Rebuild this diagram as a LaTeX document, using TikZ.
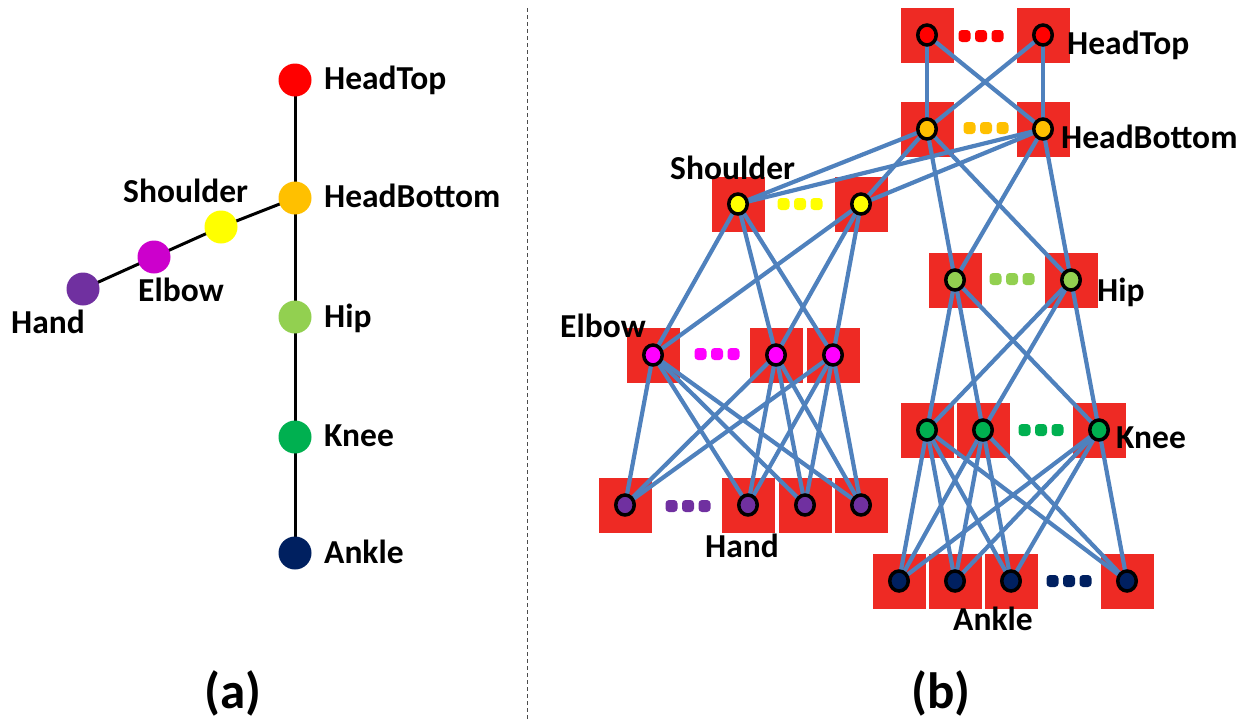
\documentclass[tikz,border=0pt]{standalone}
\usepackage{fontspec}
\setmainfont{Carlito}
\usetikzlibrary{calc}

\definecolor{cHeadTop}{HTML}{FF0000}
\definecolor{cHeadBottom}{HTML}{FFC000}
\definecolor{cShoulder}{HTML}{FFFF00}
\definecolor{cElbowA}{HTML}{CC00CC}
\definecolor{cElbowB}{HTML}{FF00FF}
\definecolor{cHand}{HTML}{7030A0}
\definecolor{cHip}{HTML}{92D050}
\definecolor{cKnee}{HTML}{00B050}
\definecolor{cAnkle}{HTML}{002060}
\definecolor{boxred}{HTML}{EE2A24}
\definecolor{linkblue}{HTML}{4F81BD}

\pgfdeclarelayer{boxes}
\pgfdeclarelayer{links}
\pgfsetlayers{boxes,links,main}

% a joint of the graph: red box behind, outlined circle on top
\newcommand\gjoint[4]{%
  \begin{pgfonlayer}{boxes}\node[jbox] (box#1) at (#2,#3) {};\end{pgfonlayer}
  \node[jointB=#4] (#1) at (#2,#3) {};}
% three rounded dots standing for the omitted joints
\newcommand\threedots[3]{%
  \foreach \d in {-16.5,0,16.5}
    \fill[#3, rounded corners=3.5pt] (#1+\d-6,#2-6) rectangle ++(12,12);}

\tikzset{
  jointA/.style={circle, minimum size=33pt, inner sep=0pt, fill=#1},
  jointB/.style={ellipse, draw=black, line width=3.5pt, minimum width=18.5pt, minimum height=20pt, inner sep=0pt, fill=#1},
  jbox/.style={fill=boxred, minimum width=53pt, minimum height=55pt, inner sep=0pt},
  bone/.style={line width=3pt, black},
  link/.style={line width=4.2pt, linkblue},
  lbl/.style={font=\fontsize{33.5}{40}\selectfont\bfseries, inner sep=0pt},
  subcap/.style={font=\fontsize{51}{60}\selectfont\bfseries, inner sep=0pt, anchor=base},
}
\usetikzlibrary{shapes.geometric}

\begin{document}
\begin{tikzpicture}[x=1pt,y=-1pt]
\useasboundingbox (0,0) rectangle (1250,721);

% ---------------- (a) skeleton tree ----------------
\node[jointA=cHeadTop]    (aHT) at (295,80)  {};
\node[jointA=cHeadBottom] (aHB) at (295,198) {};
\node[jointA=cHip]        (aHP) at (295,317) {};
\node[jointA=cKnee]       (aKN) at (295,437) {};
\node[jointA=cAnkle]      (aAN) at (295,553) {};
\node[jointA=cShoulder]   (aSH) at (221,227) {};
\node[jointA=cElbowA]     (aEL) at (154,257) {};
\node[jointA=cHand]       (aHA) at (83,289)  {};

\begin{pgfonlayer}{links}
\draw[bone] (aHT.center) -- (aAN.center);
\draw[bone] (aHA.center) -- (aEL.center) -- (aSH.center) -- (aHB.center);
\end{pgfonlayer}

\node[lbl, anchor=base west] (laHT) at (324,89)  {HeadTop};
\node[lbl, anchor=base west] (laHB) at (324,207) {HeadBottom};
\node[lbl, anchor=base west] (laHP) at (324,327) {Hip};
\node[lbl, anchor=base west] (laKN) at (324,446) {Knee};
\node[lbl, anchor=base west] (laAN) at (324,563) {Ankle};
\node[lbl, anchor=base west] (laSH) at (123,202) {Shoulder};
\node[lbl, anchor=base west] (laEL) at (138,301) {Elbow};
\node[lbl, anchor=base west] (laHA) at (11,333)  {Hand};

\node[subcap] (capa) at (233,708) {(a)};

% divider
\draw[gray!60!black, line width=1pt, dash pattern=on 4pt off 3pt] (527,8) -- (527,721);

% ---------------- (b) joint graph ----------------
\gjoint{ht1}{927}{35}{cHeadTop}
\gjoint{ht2}{1043}{35}{cHeadTop}
\gjoint{hb1}{927}{129}{cHeadBottom}
\gjoint{hb2}{1043}{129}{cHeadBottom}
\gjoint{sh1}{738}{204}{cShoulder}
\gjoint{sh2}{861}{204}{cShoulder}
\gjoint{hp1}{955}{280}{cHip}
\gjoint{hp2}{1071}{280}{cHip}
\gjoint{el1}{653}{355}{cElbowB}
\gjoint{el2}{776}{355}{cElbowB}
\gjoint{el3}{833}{355}{cElbowB}
\gjoint{ha1}{625}{505}{cHand}
\gjoint{ha2}{748}{505}{cHand}
\gjoint{ha3}{805}{505}{cHand}
\gjoint{ha4}{861}{505}{cHand}
\gjoint{kn1}{927}{430}{cKnee}
\gjoint{kn2}{983}{430}{cKnee}
\gjoint{kn3}{1099}{430}{cKnee}
\gjoint{an1}{899}{581}{cAnkle}
\gjoint{an2}{955}{581}{cAnkle}
\gjoint{an3}{1011}{581}{cAnkle}
\gjoint{an4}{1127}{581}{cAnkle}

\threedots{981}{36}{cHeadTop}
\threedots{986}{128}{cHeadBottom}
\threedots{800}{204}{cShoulder}
\threedots{717}{354}{cElbowB}
\threedots{688}{506}{cHand}
\threedots{1012}{279}{cHip}
\threedots{1041}{430}{cKnee}
\threedots{1069}{581}{cAnkle}

\begin{pgfonlayer}{links}
\foreach \a in {ht1,ht2} \foreach \b in {hb1,hb2} \draw[link] (\a.center) -- (\b.center);
\foreach \a in {hb1,hb2} \foreach \b in {sh1,sh2,hp1,hp2} \draw[link] (\a.center) -- (\b.center);
\foreach \a in {sh1,sh2} \foreach \b in {el1,el2,el3} \draw[link] (\a.center) -- (\b.center);
\foreach \a in {el1,el2,el3} \foreach \b in {ha1,ha2,ha3,ha4} \draw[link] (\a.center) -- (\b.center);
\foreach \a in {hp1,hp2} \foreach \b in {kn1,kn2,kn3} \draw[link] (\a.center) -- (\b.center);
\foreach \a in {kn1,kn2,kn3} \foreach \b in {an1,an2,an3,an4} \draw[link] (\a.center) -- (\b.center);
\end{pgfonlayer}

\node[lbl, anchor=base west] (lbHT) at (1067,54)  {HeadTop};
\node[lbl, anchor=base west] (lbHB) at (1061,148) {HeadBottom};
\node[lbl, anchor=base west] (lbSH) at (670,179)  {Shoulder};
\node[lbl, anchor=base west] (lbHP) at (1097,301) {Hip};
\node[lbl, anchor=base west] (lbEL) at (560,337)  {Elbow};
\node[lbl, anchor=base west] (lbKN) at (1116,448) {Knee};
\node[lbl, anchor=base west] (lbHA) at (705,557)  {Hand};
\node[lbl, anchor=base west] (lbAN) at (953,630)  {Ankle};

\node[subcap] (capb) at (941,708) {(b)};
\end{tikzpicture}
\end{document}
